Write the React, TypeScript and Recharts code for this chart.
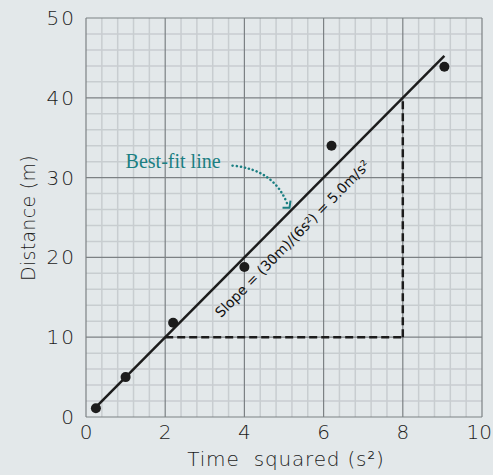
import {
  ComposedChart,
  Line,
  Scatter,
  XAxis,
  YAxis,
  ReferenceLine,
  ReferenceDot,
} from "recharts";

// measured points (time squared in s², distance in m)
const timeSquared = [0.25, 1.0, 2.2, 4.0, 6.2, 9.05];
const distance = [1.1, 5.0, 11.8, 18.8, 34.0, 43.9];

// best-fit line end points
const fitX = [0.25, 9.05];
const fitY = [1.25, 45.25];

const xTicks = [0, 2, 4, 6, 8, 10];
const yTicks = [0, 10, 20, 30, 40, 50];

// graph paper
const minorX = [
  0.4, 0.8, 1.2, 1.6, 2.4, 2.8, 3.2, 3.6, 4.4, 4.8, 5.2, 5.6, 6.4, 6.8, 7.2,
  7.6, 8.4, 8.8, 9.2, 9.6,
];
const minorY = [
  2, 4, 6, 8, 12, 14, 16, 18, 22, 24, 26, 28, 32, 34, 36, 38, 42, 44, 46, 48,
];

const points = timeSquared.map((x, i) => ({ x, y: distance[i] }));
const fitLine = fitX.map((x, i) => ({ x, y: fitY[i] }));

const BG = "#e3e8ea";
const MINOR = "#c8cdd0";
const MAJOR = "#7c8184";
const INK = "#1c1c1c";
const TEAL = "#1b7f82";
const HAND = "'DejaVu Sans', sans-serif";

function XTick({ x, y, payload }: any) {
  const last = payload.value === 10;
  return (
    <text
      x={last ? x + 10 : x}
      y={y + 14}
      textAnchor={last ? "end" : "middle"}
      fontFamily={HAND}
      fontWeight={200}
      fontSize={20}
      fill={INK}
    >
      {payload.value}
    </text>
  );
}

function YTick({ x, y, payload }: any) {
  return (
    <text
      x={x - 2}
      y={y + 7}
      textAnchor="end"
      fontFamily={HAND}
      fontWeight={200}
      fontSize={20}
      letterSpacing={2}
      fill={INK}
    >
      {payload.value}
    </text>
  );
}

export default function App() {
  return (
    <div
      style={{
        position: "absolute",
        left: 0,
        top: 0,
        width: 493,
        height: 475,
        background: BG,
      }}
    >
      <ComposedChart
        width={493}
        height={475}
        margin={{ top: 18, right: 11, bottom: 0, left: 0 }}
      >
        <XAxis
          type="number"
          dataKey="x"
          domain={[0, 10]}
          ticks={xTicks}
          axisLine={false}
          tickLine={false}
          tick={<XTick />}
          height={58}
          allowDataOverflow
        />
        <YAxis
          type="number"
          dataKey="y"
          domain={[0, 50]}
          ticks={yTicks}
          axisLine={false}
          tickLine={false}
          tick={<YTick />}
          width={86}
          allowDataOverflow
        />
        {minorX.map((v) => (
          <ReferenceLine key={"mx" + v} x={v} stroke={MINOR} strokeWidth={1.5} />
        ))}
        {minorY.map((v) => (
          <ReferenceLine key={"my" + v} y={v} stroke={MINOR} strokeWidth={1.5} />
        ))}
        {xTicks.map((v) => (
          <ReferenceLine key={"Mx" + v} x={v} stroke={MAJOR} strokeWidth={1.2} />
        ))}
        {yTicks.map((v) => (
          <ReferenceLine key={"My" + v} y={v} stroke={MAJOR} strokeWidth={1.2} />
        ))}

        <ReferenceLine
          segment={[
            { x: 2, y: 10 },
            { x: 8, y: 10 },
          ]}
          stroke={INK}
          strokeWidth={2.5}
          strokeDasharray="8 4"
        />
        <ReferenceLine
          segment={[
            { x: 8, y: 10 },
            { x: 8, y: 40 },
          ]}
          stroke={INK}
          strokeWidth={2.5}
          strokeDasharray="8 4"
        />

        <Line
          data={fitLine}
          dataKey="y"
          type="linear"
          stroke={INK}
          strokeWidth={2.5}
          dot={false}
          activeDot={false}
          isAnimationActive={false}
        />
        <Scatter
          data={points}
          dataKey="y"
          fill={INK}
          shape={(p: any) => <circle cx={p.cx} cy={p.cy} r={5} fill={INK} />}
          isAnimationActive={false}
        />

        {/* "Best-fit line" note with its dotted arrow */}
        <ReferenceDot
          x={1.0}
          y={31.2}
          r={0}
          shape={(p: any) => (
            <text
              x={p.cx}
              y={p.cy}
              fontFamily="'Liberation Serif', serif"
              fontSize={20}
              fill={TEAL}
            >
              Best-fit line
            </text>
          )}
        />
        <ReferenceDot
          x={3.7}
          y={31.5}
          r={0}
          shape={(p: any) => (
            <g>
              <path
                d={`M${p.cx},${p.cy} Q${p.cx + 42},${p.cy + 4} ${p.cx + 55},${p.cy + 39}`}
                fill="none"
                stroke={TEAL}
                strokeWidth={2.5}
                strokeDasharray="0.1 4"
                strokeLinecap="round"
              />
              <path
                d={`M${p.cx + 50},${p.cy + 42} L${p.cx + 57},${p.cy + 42} L${p.cx + 58},${p.cy + 35}`}
                fill="none"
                stroke={TEAL}
                strokeWidth={2}
              />
            </g>
          )}
        />

        {/* slope note, parallel to the fit line */}
        <ReferenceDot
          x={5.3}
          y={21.9}
          r={0}
          shape={(p: any) => (
            <text
              x={p.cx}
              y={p.cy}
              textAnchor="middle"
              transform={`rotate(-45.5 ${p.cx} ${p.cy})`}
              fontFamily={HAND}
              fontSize={14}
              fill="#111"
            >
              Slope = (30m)/(6s²) = 5.0m/s²
            </text>
          )}
        />
      </ComposedChart>

      <div
        style={{
          position: "absolute",
          left: 0,
          top: 446,
          width: 572,
          textAlign: "center",
          fontFamily: HAND,
          fontWeight: 200,
          fontSize: 20,
          letterSpacing: 0.8,
          color: INK,
          lineHeight: "26px",
        }}
      >
        Time&nbsp;&nbsp;squared (s²)
      </div>
      <div
        style={{
          position: "absolute",
          left: 28,
          top: 218,
          transform: "translate(-50%, -50%) rotate(-90deg)",
          whiteSpace: "nowrap",
          fontFamily: HAND,
          fontWeight: 200,
          fontSize: 19,
          letterSpacing: 0.3,
          color: INK,
        }}
      >
        Distance (m)
      </div>
    </div>
  );
}
